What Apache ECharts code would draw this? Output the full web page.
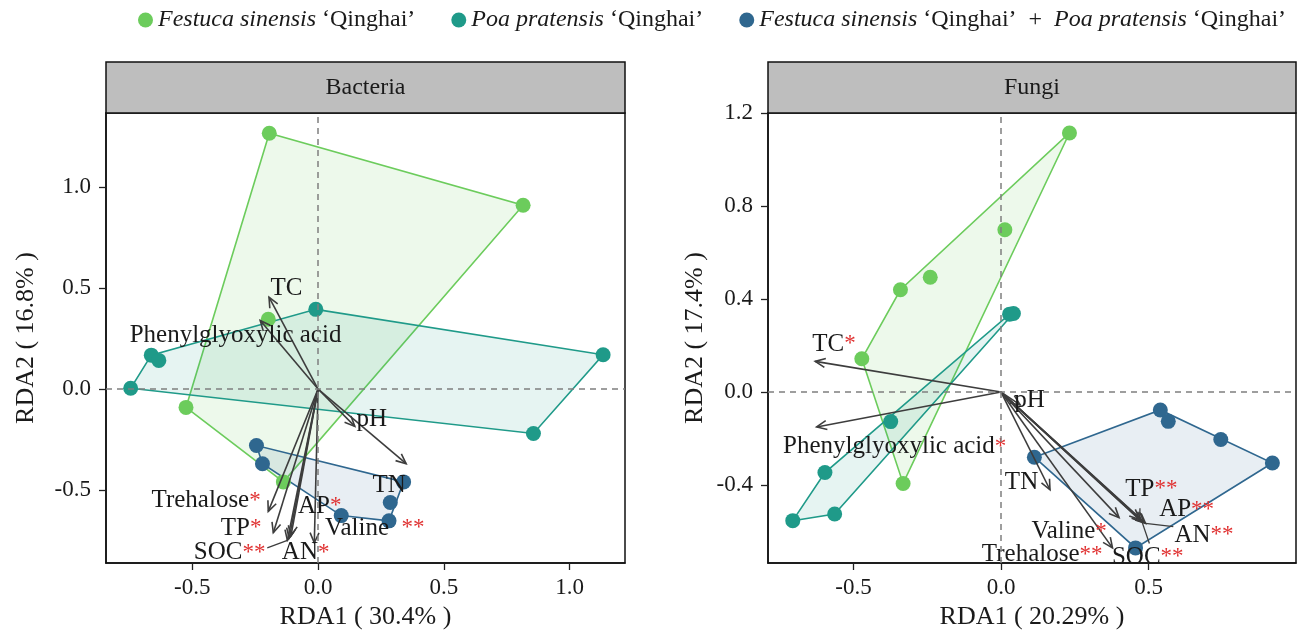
<!DOCTYPE html>
<html><head><meta charset="utf-8">
<script src="https://cdn.jsdelivr.net/npm/echarts@6/dist/echarts.min.js"></script>
<style>html,body{margin:0;padding:0;background:#fff}#c{width:1306px;height:639px}</style>
</head><body><div id="c"></div>
<script>
// ---------------- DATA ----------------
const groupNames = ['Festuca sinensis ‘Qinghai’', 'Poa pratensis ‘Qinghai’', 'Festuca sinensis ‘Qinghai’ + Poa pratensis ‘Qinghai’'];
const legendRich = ['{i|Festuca sinensis} {n|‘Qinghai’}', '{i|Poa pratensis} {n|‘Qinghai’}', '{i|Festuca sinensis} {n|‘Qinghai’  +  }{i|Poa pratensis} {n|‘Qinghai’}'];

const panelTitles = ['Bacteria', 'Fungi'];
const xAxisTitles = ['RDA1 ( 30.4% )', 'RDA1 ( 20.29% )'];
const yAxisTitles = ['RDA2 ( 16.8% )', 'RDA2 ( 17.4% )'];
const bacXTicks = [-0.5, 0.0, 0.5, 1.0];
const bacYTicks = [-0.5, 0.0, 0.5, 1.0];
const funXTicks = [-0.5, 0.0, 0.5];
const funYTicks = [-0.4, 0.0, 0.4, 0.8, 1.2];

// Bacteria site scores
const bacFestuca = [[-0.194, 1.268], [0.815, 0.911], [-0.198, 0.346], [-0.525, -0.091], [-0.138, -0.460]];
const bacPoa = [[-0.745, 0.004], [-0.663, 0.168], [-0.633, 0.142], [-0.009, 0.395], [1.133, 0.170], [0.856, -0.220]];
const bacMix = [[-0.245, -0.280], [-0.221, -0.370], [0.340, -0.460], [0.287, -0.562], [0.282, -0.653], [0.092, -0.627]];
// Bacteria environmental vectors
const bacVars = ['TC', 'Phenylglyoxylic acid', 'pH', 'TN', 'Trehalose', 'TP', 'SOC', 'AP', 'AN', 'Valine'];
const bacVecX = [-0.195, -0.230, 0.146, 0.350, -0.198, -0.178, -0.122, -0.108, -0.015, -0.115];
const bacVecY = [0.455, 0.340, -0.185, -0.370, -0.606, -0.712, -0.750, -0.728, -0.762, -0.740];
const bacSig = ['', '', '', '', '*', '*', '**', '*', '*', '**'];

// Fungi site scores
const funFestuca = [[0.232, 1.114], [0.013, 0.698], [-0.341, 0.440], [-0.240, 0.494], [-0.472, 0.143], [-0.332, -0.393]];
const funPoa = [[0.029, 0.335], [0.042, 0.338], [-0.374, -0.127], [-0.597, -0.346], [-0.564, -0.524], [-0.706, -0.553]];
const funMix = [[0.113, -0.280], [0.540, -0.077], [0.567, -0.126], [0.745, -0.204], [0.920, -0.305], [0.456, -0.670]];
// Fungi environmental vectors
const funVars = ['TC', 'Phenylglyoxylic acid', 'pH', 'TN', 'Valine', 'Trehalose', 'TP', 'AP', 'AN', 'SOC'];
const funVecX = [-0.630, -0.625, 0.065, 0.166, 0.400, 0.378, 0.470, 0.485, 0.490, 0.478];
const funVecY = [0.132, -0.150, -0.055, -0.420, -0.540, -0.670, -0.548, -0.560, -0.565, -0.558];
const funSig = ['*', '*', '', '', '*', '**', '**', '**', '**', '**'];

// ---------------- LAYOUT (label anchors: left edge, vertical middle) ----------------
const bacLabelPos = [[-0.189, 0.498], [-0.749, 0.267], [0.153, -0.153], [0.216, -0.480], [-0.662, -0.553], [-0.387, -0.690], [-0.494, -0.812], [-0.080, -0.580], [-0.144, -0.812], [0.028, -0.690]];
const bacLabelGap = ['', '', '', '', '', '', '', '', '', '  '];
const bacConnect = [[6, -0.202, -0.787]];
const funLabelPos = [[-0.640, 0.206], [-0.739, -0.235], [0.045, -0.036], [0.013, -0.390], [0.103, -0.600], [-0.065, -0.700], [0.421, -0.418], [0.536, -0.505], [0.588, -0.615], [0.376, -0.710]];
const funLabelGap = ['', '', '', '', '', '', '', '', '', ''];
const funConnect = [[6, 0.471, -0.500], [8, 0.584, -0.579], [9, 0.503, -0.651]];

const colors = ['#6ccc5c', '#1f9a89', '#2f678f'];
const fills = ['rgba(108,204,92,0.12)', 'rgba(31,154,137,0.11)', 'rgba(47,103,143,0.11)'];
const FONT = 'Liberation Serif';
const TXT = '#1a1a1a';
const ARROW = '#3d3d3d';

// ---------------- HELPERS ----------------
function hull(pts) {
  const p = pts.slice().sort((a, b) => a[0] - b[0] || a[1] - b[1]);
  const cross = (o, a, b) => (a[0] - o[0]) * (b[1] - o[1]) - (a[1] - o[1]) * (b[0] - o[0]);
  const lo = [];
  for (const q of p) { while (lo.length >= 2 && cross(lo[lo.length - 2], lo[lo.length - 1], q) <= 0) lo.pop(); lo.push(q); }
  const up = [];
  for (let i = p.length - 1; i >= 0; i--) { const q = p[i]; while (up.length >= 2 && cross(up[up.length - 2], up[up.length - 1], q) <= 0) up.pop(); up.push(q); }
  up.pop(); lo.pop();
  return lo.concat(up);
}

function panelSeries(k, groups, vx, vy, vars, sig, labPos, labGap, connect) {
  const s = [];
  s.push({
    type: 'scatter', xAxisIndex: k, yAxisIndex: k, data: [[0, 0]], symbolSize: 0, silent: true, z: 0,
    markLine: {
      silent: true, symbol: 'none', label: { show: false }, animation: false,
      lineStyle: { color: '#7f7f7f', width: 1.5, type: [6, 5] },
      data: [{ xAxis: 0 }, { yAxis: 0 }]
    }
  });
  groups.forEach((pts, g) => {
    const h = hull(pts);
    s.push({
      type: 'custom', xAxisIndex: k, yAxisIndex: k, z: 1, silent: true, data: h,
      renderItem: (params, api) => {
        if (params.dataIndex !== 0) return;
        return { type: 'polygon', shape: { points: h.map(p => api.coord(p)) }, style: { fill: fills[g], stroke: colors[g], lineWidth: 1.6 } };
      }
    });
  });
  groups.forEach((pts, g) => {
    s.push({
      type: 'scatter', name: groupNames[g], xAxisIndex: k, yAxisIndex: k, z: 2, data: pts,
      symbolSize: 15, itemStyle: { color: colors[g], opacity: 1 }
    });
  });
  const vecData = vx.map((x, i) => [x, vy[i]]);
  s.push({
    type: 'custom', xAxisIndex: k, yAxisIndex: k, z: 3, silent: true, data: vecData,
    renderItem: (params, api) => {
      const o = api.coord([0, 0]);
      const t = api.coord([api.value(0), api.value(1)]);
      const ang = Math.atan2(t[1] - o[1], t[0] - o[0]);
      const L = 11, A = Math.PI / 7.5;
      const h1 = [t[0] - L * Math.cos(ang - A), t[1] - L * Math.sin(ang - A)];
      const h2 = [t[0] - L * Math.cos(ang + A), t[1] - L * Math.sin(ang + A)];
      return {
        type: 'group', children: [
          { type: 'line', shape: { x1: o[0], y1: o[1], x2: t[0], y2: t[1] }, style: { stroke: ARROW, lineWidth: 1.6 } },
          { type: 'polyline', shape: { points: [h1, t, h2] }, style: { stroke: ARROW, lineWidth: 1.6, fill: null } }
        ]
      };
    }
  });
  s.push({
    type: 'custom', xAxisIndex: k, yAxisIndex: k, z: 3, silent: true, data: connect.map(c => [c[1], c[2], c[0]]),
    renderItem: (params, api) => {
      const a = api.coord([api.value(0), api.value(1)]);
      const vi = api.value(2);
      const b = api.coord([vx[vi], vy[vi]]);
      return { type: 'line', shape: { x1: a[0], y1: a[1], x2: b[0], y2: b[1] }, style: { stroke: ARROW, lineWidth: 1.3 } };
    }
  });
  s.push({
    type: 'custom', xAxisIndex: k, yAxisIndex: k, z: 4, silent: true, data: labPos,
    renderItem: (params, api) => {
      const i = params.dataIndex;
      const c = api.coord([api.value(0), api.value(1)]);
      let txt = '{n|' + vars[i] + '}';
      if (sig[i]) txt += labGap[i] + '{s|' + sig[i] + '}';
      return {
        type: 'text', x: c[0], y: c[1],
        style: {
          text: txt, align: 'left', verticalAlign: 'middle', fontFamily: FONT, fontSize: 25, fill: TXT,
          rich: {
            n: { fontFamily: FONT, fontSize: 25, fill: TXT, color: TXT },
            s: { fontFamily: FONT, fontSize: 23, fill: '#e03131', color: '#e03131' }
          }
        }
      };
    }
  });
  return s;
}

function xAxisCfg(k, min, max, ticks, title, gap) {
  return {
    gridIndex: k, type: 'value', min: min, max: max,
    name: title, nameLocation: 'middle', nameGap: gap,
    nameTextStyle: { fontFamily: FONT, fontSize: 26, color: TXT },
    axisLine: { show: true, onZero: false, lineStyle: { color: '#111', width: 1.5 } },
    axisTick: { show: true, length: 7, customValues: ticks, lineStyle: { color: '#222', width: 1.3 } },
    axisLabel: { customValues: ticks, formatter: v => v.toFixed(1), margin: 13, fontFamily: FONT, fontSize: 23, color: TXT },
    splitLine: { show: false }
  };
}
function yAxisCfg(k, min, max, ticks, title, gap) {
  return {
    gridIndex: k, type: 'value', min: min, max: max,
    name: title, nameLocation: 'middle', nameGap: gap, nameRotate: 90,
    nameTextStyle: { fontFamily: FONT, fontSize: 26, color: TXT },
    axisLine: { show: true, onZero: false, lineStyle: { color: '#111', width: 1.5 } },
    axisTick: { show: true, length: 7, customValues: ticks, lineStyle: { color: '#222', width: 1.3 } },
    axisLabel: { customValues: ticks, formatter: v => v.toFixed(1), margin: 15, fontFamily: FONT, fontSize: 23, color: TXT },
    splitLine: { show: false }
  };
}

const grids = [
  { left: 106, top: 113, width: 519, height: 450 },
  { left: 768, top: 113, width: 528, height: 450 }
];

const headerGraphics = [];
grids.forEach((g, k) => {
  headerGraphics.push({ type: 'rect', z: 10, shape: { x: g.left, y: 62, width: g.width, height: 51 }, style: { fill: '#bebebe', stroke: '#111', lineWidth: 1.5 } });
  headerGraphics.push({ type: 'text', z: 11, x: g.left + g.width / 2, y: 88, style: { text: panelTitles[k], align: 'center', verticalAlign: 'middle', fontFamily: FONT, fontSize: 24, fill: TXT } });
});

const chart = echarts.init(document.getElementById('c'), null, { renderer: 'canvas' });
chart.setOption({
  animation: false,
  backgroundColor: '#ffffff',
  legend: {
    data: groupNames, top: 3, left: 133, icon: 'circle', itemWidth: 15, itemHeight: 15, itemGap: 36,
    formatter: name => legendRich[groupNames.indexOf(name)],
    textStyle: {
      fontFamily: FONT, fontSize: 24, color: TXT,
      rich: {
        i: { fontFamily: FONT, fontSize: 24, fontStyle: 'italic', color: TXT },
        n: { fontFamily: FONT, fontSize: 24, color: TXT }
      }
    }
  },
  grid: grids.map(g => Object.assign({ show: true, borderColor: '#111', borderWidth: 1.5, backgroundColor: 'transparent' }, g)),
  xAxis: [
    xAxisCfg(0, -0.843, 1.22, bacXTicks, xAxisTitles[0], 35),
    xAxisCfg(1, -0.79, 1.0, funXTicks, xAxisTitles[1], 35)
  ],
  yAxis: [
    yAxisCfg(0, -0.862, 1.368, bacYTicks, yAxisTitles[0], 67),
    yAxisCfg(1, -0.735, 1.2, funYTicks, yAxisTitles[1], 60)
  ],
  graphic: headerGraphics,
  series: [].concat(
    panelSeries(0, [bacFestuca, bacPoa, bacMix], bacVecX, bacVecY, bacVars, bacSig, bacLabelPos, bacLabelGap, bacConnect),
    panelSeries(1, [funFestuca, funPoa, funMix], funVecX, funVecY, funVars, funSig, funLabelPos, funLabelGap, funConnect)
  )
});
</script>
</body></html>
